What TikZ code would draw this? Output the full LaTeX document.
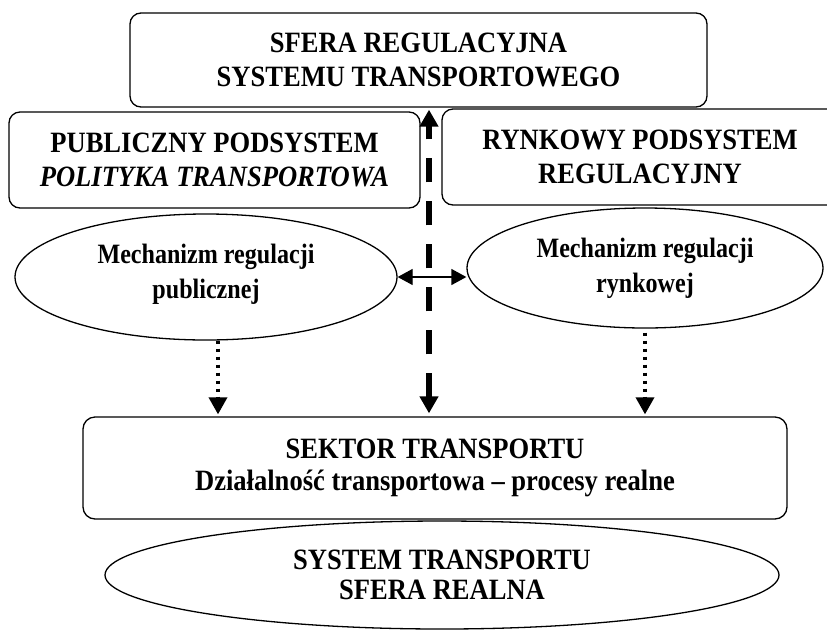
\documentclass[tikz,border=0pt]{standalone}
\usepackage{fontspec}
\setmainfont{Liberation Serif}
\newfontfamily\narrowfont[FakeStretch=0.9]{Liberation Serif}
\newfontfamily\ovalfont[FakeStretch=0.86]{Liberation Serif}
\usetikzlibrary{arrows.meta,shapes.geometric}

\begin{document}
\begin{tikzpicture}[
  x=1pt, y=-1pt,
  box/.style={draw, line width=1.3pt, rounded corners=11pt, align=center, inner sep=0pt,
    font=\narrowfont\bfseries\fontsize{29.5}{34}\selectfont},
  oval/.style={draw, ellipse, line width=1.3pt, align=center, inner sep=0pt},
  dashflow/.style={line width=5.5pt, dash pattern=on 24pt off 19pt,
    {Triangle[length=17pt,width=18pt]}-{Triangle[length=17pt,width=18pt]}},
  dotflow/.style={line width=3.5pt, dash pattern=on 3.5pt off 4.5pt,
    -{Triangle[length=17pt,width=18pt]}},
  link/.style={line width=1.3pt, {Triangle[length=15pt,width=16pt]}-{Triangle[length=15pt,width=16pt]}}
]
\useasboundingbox (0,0) rectangle (827,630);
\clip (0,0) rectangle (827,630);
% regulacja
\node[box, minimum width=577pt, minimum height=94pt] (sfera) at (418.5,60)
  {SFERA REGULACYJNA\\SYSTEMU TRANSPORTOWEGO};
\node[box, minimum width=411pt, minimum height=96pt] (publ) at (214.5,160)
  {PUBLICZNY PODSYSTEM\\\textit{POLITYKA TRANSPORTOWA}};
\node[box, minimum width=396pt, minimum height=96pt] (rynk) at (640,157)
  {RYNKOWY PODSYSTEM\\REGULACYJNY};
% mechanizmy
\node[oval, minimum width=382pt, minimum height=126pt, text depth=12pt,
  font=\ovalfont\bfseries\fontsize{28}{35}\selectfont] (pubmech) at (206,277)
  {Mechanizm regulacji\\publicznej};
\node[oval, minimum width=356pt, minimum height=120pt,
  font=\ovalfont\bfseries\fontsize{28}{35}\selectfont] (rynmech) at (645,268)
  {Mechanizm regulacji\\rynkowej};
% sfera realna
\node[box, rounded corners=12pt, minimum width=704pt, minimum height=102pt,
  font=\narrowfont\bfseries\fontsize{29.5}{32}\selectfont] (sektor) at (435,468)
  {SEKTOR TRANSPORTU\\Działalność transportowa – procesy realne};
\node[oval, minimum width=674pt, minimum height=108pt,
  font=\narrowfont\bfseries\fontsize{29.5}{30}\selectfont] (system) at (442,575)
  {SYSTEM TRANSPORTU\\SFERA REALNA};
\coordinate (axis) at (429,0);
\draw[link] (pubmech.east) -- (pubmech.east -| rynmech.west);
\draw[dashflow, shorten <=3pt, shorten >=2pt] (sektor.north -| axis) -- (sfera.south -| axis);
\draw[dotflow, shorten >=2pt] ([xshift=12pt]pubmech.south) -- ([xshift=12pt]pubmech.south |- sektor.north);
\draw[dotflow, shorten >=2pt] ([yshift=-4pt]rynmech.south) -- (rynmech.south |- sektor.north);
\end{tikzpicture}
\end{document}
